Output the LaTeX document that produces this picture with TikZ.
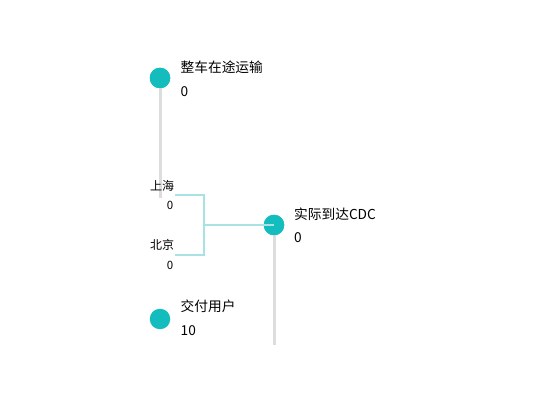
\documentclass[tikz,border=0pt]{standalone}
\usepackage{fontspec}
\setmainfont{Noto Sans CJK SC}
\definecolor{teal1}{RGB}{20,189,189}
\definecolor{brk}{RGB}{168,226,228}
\definecolor{stem}{RGB}{221,221,221}
\begin{document}
\begin{tikzpicture}[x=1pt,y=-1pt,
  dot/.style={circle,fill=teal1,minimum size=20.5pt,inner sep=0pt},
  stemline/.style={draw=stem,line width=3pt},
  brkline/.style={draw=brk,line width=1.5pt},
  big/.style={anchor=west,inner sep=0pt,font=\fontsize{13.7}{16}\selectfont},
  small/.style={inner sep=0pt,font=\fontsize{12}{14}\selectfont},
  tiny/.style={inner sep=0pt,font=\fontsize{11.5}{13}\selectfont}]
\useasboundingbox (0,0) rectangle (550,420);
% stems
\coordinate (s1e) at (160,198);
\coordinate (s2e) at (274,345);
\node[dot] (c1) at (160,78) {};
\node[dot] (c2) at (274,225) {};
\node[dot] (c3) at (160,319) {};
\draw[stemline] (c1.center) -- (s1e);
\draw[stemline] (c2.center) -- (s2e);
\node[dot] at (160,78) {};
\node[dot] at (274,225) {};
% bracket
\coordinate (b1) at (175,195);
\coordinate (b2) at (175,255);
\coordinate (bm) at (204,225);
\draw[brkline] (b1) -- (204,195) -- (204,255) -- (b2);
\draw[brkline] (bm) -- (c2.center);
% labels
\node[big] (t1) at (180.5,67) {整车在途运输};
\node[big] (v1) at (180.5,91.5) {0};
\node[big] (t2) at (294,214) {实际到达CDC};
\node[big] (v2) at (294,238) {0};
\node[big] (t3) at (180.5,306) {交付用户};
\node[big] (v3) at (180.5,331) {10};
\node[small,anchor=west] (l1) at (150,185.5) {上海};
\node[tiny] (lv1) at (170,205.5) {0};
\node[small,anchor=west] (l2) at (150,245) {北京};
\node[tiny] (lv2) at (170,265.5) {0};
\end{tikzpicture}
\end{document}
